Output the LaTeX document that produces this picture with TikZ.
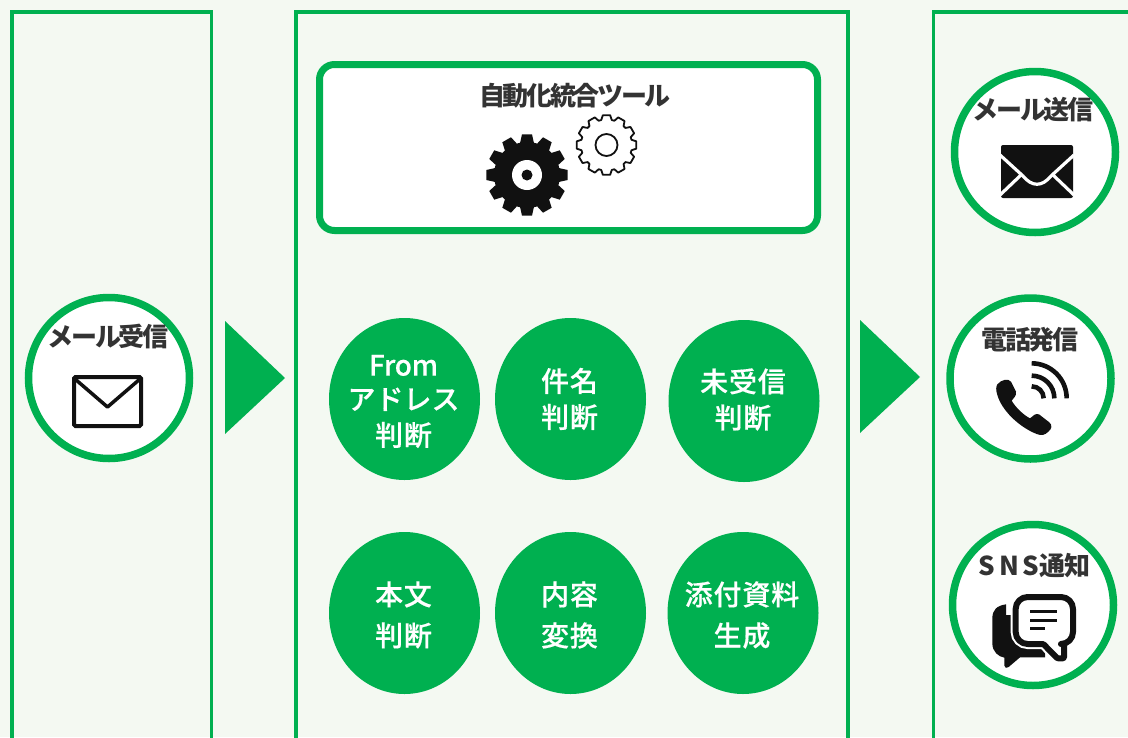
\documentclass[tikz,border=0pt]{standalone}
\usepackage{fontspec}
\setmainfont{Noto Sans CJK JP}
\newfontfamily\taskfont[FakeBold=0.4]{Noto Sans CJK JP Medium}
\usetikzlibrary{shapes.geometric,positioning}
\definecolor{bggreen}{HTML}{F4F9F2}
\definecolor{linegreen}{HTML}{00B050}
\definecolor{ink}{HTML}{111111}
\definecolor{labelgray}{HTML}{333333}
\tikzset{
	panel/.style={draw=linegreen,line width=3.8pt},
	flowarrow/.style={fill=linegreen},
	toolbox/.style={draw=linegreen,fill=white,line width=7pt,rounded corners=15pt,minimum width=498pt,minimum height=166pt,inner sep=0pt},
	iocircle/.style={circle,draw=linegreen,fill=white,line width=7.5pt,minimum size=161pt,inner sep=0pt},
	task/.style={ellipse,fill=linegreen,minimum width=151pt,minimum height=162pt,inner sep=0pt},
	tasktext/.style={text=white,inner sep=0pt,align=center,xshift=-1pt,font=\taskfont\fontsize{28pt}{36pt}\selectfont\addfontfeature{LetterSpace=3}},
	tasklong/.style={tasktext,font=\taskfont\fontsize{28pt}{41pt}\selectfont\addfontfeature{LetterSpace=3}},
	toollabel/.style={text=labelgray,inner sep=0pt,font=\fontsize{26pt}{30pt}\selectfont\bfseries\addfontfeature{LetterSpace=-9}},
	iconink/.style={fill=ink,draw=none}
}
% gear outline: centre, root radius, tip radius
\newcommand{\gearpath}[3]{
	(#1) ++(-7:#3) \foreach \a in {0,30,...,330} {
		-- ([shift={(\a-7:#3)}]#1) -- ([shift={(\a+7:#3)}]#1) -- ([shift={(\a+12:#2)}]#1) -- ([shift={(\a+18:#2)}]#1)
	} -- cycle
}
\begin{document}
\begin{tikzpicture}[x=1pt,y=-1pt]
	\useasboundingbox (0,0) rectangle (1128,737);
	\clip (0,0) rectangle (1128,737);
	\fill[bggreen] (0,0) rectangle (1128,737);

	% panels
	\draw[panel] (12,740) -- (12,12) -- (211.5,12) -- (211.5,740);
	\draw[panel] (296,740) -- (296,12) -- (848,12) -- (848,740);
	\draw[panel] (933.5,740) -- (933.5,12) -- (1130,12);

	% arrows
	\fill[flowarrow] (225,321) -- (285,378) -- (225,434) -- cycle;
	\fill[flowarrow] (860,320) -- (920,377) -- (860,433) -- cycle;

	% tool box
	\node[toolbox] (tool) at (568.5,147.5) {};
	\node[toollabel] (toolname) at (575,96) {自動化統合ツール};
	\fill[iconink] \gearpath{527,175}{33}{41};
	\fill[white] (527,175) circle (15pt);
	\fill[iconink] (527,175) circle (5.5pt);
	\draw[ink,line width=1.8pt,fill=white,line join=round] \gearpath{606.5,145}{25.5}{30};
	\draw[ink,line width=1.8pt] (606.5,145) circle (11pt);

	% tasks
	\node[task,label={[tasktext,yshift=-2.5pt]center:{{\addfontfeature{LetterSpace=-1}From}\\[-2pt]{\addfontfeature{LetterSpace=0}アドレス}\\判断}}] (from) at (404.5,399) {};
	\node[task,label={[tasktext]center:{件名\\判断}}] (subject) [right=166pt of from.center,anchor=center] {};
	\node[task,label={[tasktext,yshift=1.5pt]center:{未受信\\判断}}] (unread) at (744,401) {};
	\node[task,label={[tasklong,yshift=-2pt]center:{本文\\判断}}] (body) at (404.5,613) {};
	\node[task,label={[tasklong,yshift=-2pt]center:{内容\\変換}}] (convert) [right=166pt of body.center,anchor=center] {};
	\node[task,label={[tasklong,yshift=-2pt]center:{添付資料\\生成}}] (attach) at (743,613) {};

	% mail in
	\node[iocircle] (mailin) at (109,378) {};
	\node[toollabel] (mailinname) at (108,337) {メール受信};
	\draw[ink,line width=4pt,rounded corners=1.5pt] (74,377) rectangle (141,426);
	\draw[ink,line width=3.5pt,line join=round] (75,379) -- (107.5,407) -- (140,379);

	% mail out
	\node[iocircle] (mailout) at (1035,152) {};
	\node[toollabel] (mailoutname) at (1033,110) {メール送信};
	\fill[iconink,rounded corners=2pt] (1001,145) rectangle (1073,198);
	\draw[white,line width=3.2pt] (1000,155) -- (1023,176) .. controls (1032,187) and (1042,187) .. (1051,176) -- (1074,155);
	\draw[white,line width=3.2pt] (1000,195) -- (1021,175) (1074,195) -- (1053,175);

	% phone
	\node[iocircle] (phone) at (1030.5,378.5) {};
	\node[toollabel] (phonename) at (1030,340) {電話発信};
	\begin{scope}[shift={(940,290)},x=1/3*1pt,y=-1/3*1pt]
		\fill[iconink] (172,283) .. controls (185,268) and (205,265) .. (213,275) -- (228,305)
			.. controls (230,318) and (220,325) .. (215,332) .. controls (225,350) and (250,375) .. (270,385)
			.. controls (278,380) and (285,368) .. (297,373) -- (328,397) .. controls (338,405) and (335,418) .. (325,425)
			.. controls (315,435) and (305,438) .. (290,432) .. controls (235,410) and (185,360) .. (172,315)
			.. controls (167,300) and (168,290) .. (172,283) -- cycle;
		\draw[ink,line width=4.6pt] (275,220) arc[start angle=90,end angle=0,radius=35pt];
		\draw[ink,line width=4.6pt] (275,257) arc[start angle=90,end angle=0,radius=22.7pt];
		\draw[ink,line width=4.6pt] (275,289) arc[start angle=90,end angle=0,radius=12pt];
	\end{scope}

	% sns
	\node[iocircle] (sns) at (1033,605) {};
	\node[toollabel,font=\fontsize{26pt}{30pt}\selectfont\bfseries] (snsname) at (1034.5,566) {\addfontfeature{LetterSpace=15}SNS\addfontfeature{LetterSpace=-4}通知};
	\begin{scope}[shift={(940,515)},x=1/3*1pt,y=-1/3*1pt]
		\fill[iconink] (198,268) .. controls (170,272) and (157,285) .. (157,310) -- (157,385)
			.. controls (157,410) and (175,425) .. (193,428) -- (193,452) .. controls (194,460) and (200,460) .. (206,456)
			-- (240,427) -- (315,427) -- (315,300) -- (198,300) -- cycle;
		\path[draw=white,line width=10pt,fill=white,rounded corners=12pt] (227,246) -- (399,246) -- (399,387) [rounded corners=1pt] -- (372,387) -- (372,432) -- (352,432) -- (310,387) [rounded corners=12pt] -- (227,387) -- cycle;
		\draw[ink,line width=6pt,line join=round,rounded corners=12pt] (227,246) -- (399,246) -- (399,387) [rounded corners=1pt] -- (372,387) -- (372,430) -- (352,430) -- (310,387) [rounded corners=12pt] -- (227,387) -- cycle;
		\draw[ink,line width=3pt] (270,290) -- (350,290) (270,315) -- (350,315) (270,340) -- (315,340);
	\end{scope}
\end{tikzpicture}
\end{document}
